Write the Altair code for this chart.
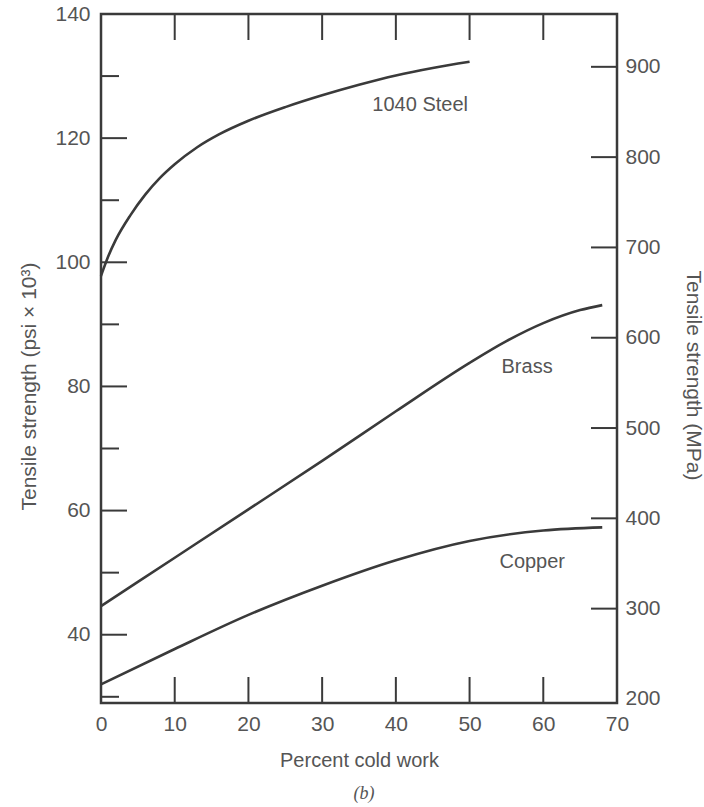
import altair as alt
import pandas as pd

# ---- data ----
steel_x = [0, 1, 2, 4, 6, 8, 10, 13, 16, 20, 25, 30, 35, 40, 45, 50]
steel_y = [97.8, 101.0, 103.6, 107.6, 110.9, 113.6, 115.8, 118.5, 120.6, 122.8, 125.0, 126.9,
           128.6, 130.1, 131.3, 132.3]
brass_x = [0, 10, 20, 30, 40, 50, 55, 60, 65, 68]
brass_y = [44.6, 52.4, 60.2, 68.0, 76.0, 83.8, 87.3, 90.2, 92.3, 93.1]
copper_x = [0, 10, 20, 30, 40, 50, 60, 68]
copper_y = [32.0, 37.7, 43.2, 47.9, 52.0, 55.1, 56.8, 57.3]

label_names = ["1040 Steel", "Brass", "Copper"]
label_x = [43.3, 57.8, 58.5]
label_y = [125.3, 83.1, 51.7]

x_tick_labels = [0, 10, 20, 30, 40, 50, 60, 70]
x_inner_ticks = [10, 20, 30, 40, 50, 60]
ksi_major = [40, 60, 80, 100, 120, 140]
ksi_minor = [30, 50, 70, 90, 110, 130]
mpa_ticks = [200, 300, 400, 500, 600, 700, 800, 900]
mpa_inner_ticks = [300, 400, 500, 600, 700, 800, 900]

X_DOMAIN = [0, 70]
KSI_DOMAIN = [29, 140]
MPA_DOMAIN = [195.5, 958.5]

W, H = 516, 689
FONT = "Liberation Sans"
TXT = "#555555"
INK = "#3a3a3a"

frames = []
for name, xs, ys in [("1040 Steel", steel_x, steel_y), ("Brass", brass_x, brass_y),
                     ("Copper", copper_x, copper_y)]:
    frames.append(pd.DataFrame({"material": name, "work": xs, "ksi": ys}))
lines_df = pd.concat(frames, ignore_index=True)
labels_df = pd.DataFrame({"name": label_names, "work": label_x, "ksi": label_y})

xscale = alt.Scale(domain=X_DOMAIN, nice=False, zero=False)
kscale = alt.Scale(domain=KSI_DOMAIN, nice=False, zero=False)
mscale = alt.Scale(domain=MPA_DOMAIN, nice=False, zero=False)

x_axis = alt.Axis(values=x_tick_labels, format="d", title="Percent cold work",
                  ticks=False, tickSize=0, domain=False, grid=False, labelFlush=False,
                  labelFontSize=21, labelFont=FONT, labelColor=TXT, labelPadding=10,
                  titleFontSize=20, titleFont=FONT, titleColor=TXT, titleFontWeight="normal",
                  titleY=57, titleBaseline="middle")
left_axis = alt.Axis(values=ksi_major, format="d", title="Tensile strength (psi  ×  10³)",
                     orient="left", ticks=False, tickSize=0, domain=False, grid=False,
                     labelFontSize=21, labelFont=FONT, labelColor=TXT, labelPadding=11,
                     titleFontSize=21, titleFont=FONT, titleColor=TXT, titleFontWeight="normal",
                     titleX=-72, titleY=372, titleBaseline="middle")
right_axis = alt.Axis(values=mpa_ticks, format="d", title="Tensile strength (MPa)",
                      orient="right", ticks=False, tickSize=0, domain=False, grid=False,
                      labelFontSize=21, labelFont=FONT, labelColor=TXT, labelPadding=8,
                      titleFontSize=21, titleFont=FONT, titleColor=TXT, titleFontWeight="normal",
                      titleX=75, titleY=361, titleBaseline="middle")


def X(field):
    return alt.X(field, scale=xscale, axis=x_axis)


def Y(field):
    return alt.Y(field, scale=kscale, axis=left_axis)


lines = alt.Chart(lines_df).mark_line(color=INK, strokeWidth=2.6, interpolate="monotone").encode(
    x=X("work:Q"), y=Y("ksi:Q"), detail="material:N",
)

texts = alt.Chart(labels_df).mark_text(font=FONT, fontSize=20, color=TXT,
                                       align="center", baseline="middle").encode(
    x=X("work:Q"), y=Y("ksi:Q"), text="name:N",
)

tick_style = dict(color=INK, strokeWidth=2)

left_major = alt.Chart(pd.DataFrame({"v": ksi_major})).mark_rule(**tick_style).encode(
    y=Y("v:Q"), x=alt.value(0), x2=alt.value(26))
left_minor = alt.Chart(pd.DataFrame({"v": ksi_minor})).mark_rule(**tick_style).encode(
    y=Y("v:Q"), x=alt.value(0), x2=alt.value(18))
bottom_ticks = alt.Chart(pd.DataFrame({"v": x_inner_ticks})).mark_rule(**tick_style).encode(
    x=X("v:Q"), y=alt.value(H), y2=alt.value(H - 26))
top_ticks = alt.Chart(pd.DataFrame({"v": x_inner_ticks})).mark_rule(**tick_style).encode(
    x=X("v:Q"), y=alt.value(0), y2=alt.value(26))

caption = alt.Chart(pd.DataFrame({"t": ["(b)"]})).mark_text(
    font="Liberation Serif", fontStyle="italic", fontSize=18, color=TXT,
    align="center", baseline="middle").encode(
    text="t:N", x=alt.value(263), y=alt.value(780))

ksi_layer = alt.layer(lines, texts, left_major, left_minor, bottom_ticks, top_ticks, caption)

right_ticks = alt.Chart(pd.DataFrame({"v": mpa_inner_ticks})).mark_rule(**tick_style).encode(
    y=alt.Y("v:Q", scale=mscale, axis=right_axis), x=alt.value(W - 26), x2=alt.value(W))

chart = alt.layer(ksi_layer, right_ticks).resolve_scale(y="independent").properties(
    width=W, height=H,
    autosize=alt.AutoSizeParams(type="none"),
    padding={"left": 101, "top": 14, "right": 87, "bottom": 104},
    background="white",
).configure_view(stroke=INK, strokeWidth=2.5).configure_axis(
    labelFontSize=21, labelFont=FONT, labelColor=TXT,
    titleFontSize=21, titleFont=FONT, titleColor=TXT, titleFontWeight="normal",
)

chart.save("out.html", embed_options={"renderer": "svg", "actions": False})
